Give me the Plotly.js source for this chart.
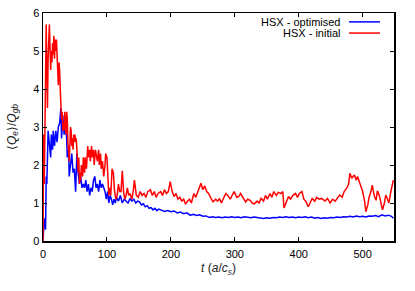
<!DOCTYPE html>
<html><head><meta charset="utf-8">
<script src="https://cdn.plot.ly/plotly-3.0.1.min.js"></script>
<style>html,body{margin:0;padding:0;background:#fff}#c{width:415px;height:291px}</style>
</head><body><div id="c"></div>
<script>
const optT = [0,2,4,5,6,8,10,12,13,15,16,18,20,22,24,26,28,29,31,33,35,37,38,40,41,43,45,47,49,51,53,55,57,59,61,63,65,67,69,71,73,75,77,79,81,83,85,87,89,91,93,95,97,99,101,103,105,107,109,111,113,115,118,121,124,127,130,133,136,139,142,145,148,151,154,157,160,163,166,169,172,175,178,181,184,187,190,195,200,205,210,215,220,225,230,235,240,245,250,255,260,265,270,275,280,285,290,295,300,305,310,315,320,325,330,335,340,345,350,355,360,365,370,375,380,385,390,395,400,405,410,415,420,425,430,435,440,445,450,455,460,465,470,475,480,485,490,495,500,505,510,515,520,525,530,535,540,545,548];
const optQ = [0.0,0.6,0.3,1.7,1.5,2.9,2.6,2.2,2.8,2.4,2.9,2.5,2.9,2.6,3.0,3.1,3.5,2.7,3.3,2.8,3.1,2.7,2.2,2.4,1.7,2.1,2.3,1.8,1.9,1.3,2.3,1.8,1.5,1.7,1.4,1.5,1.4,1.6,1.3,1.5,1.2,1.4,1.3,1.6,1.7,1.4,1.5,1.3,1.6,1.4,1.5,1.4,1.3,1.1,1.3,1.0,1.2,1.1,0.95,1.1,1.0,1.15,1.05,1.2,1.0,1.1,1.05,1.0,1.12,1.05,1.1,1.0,1.05,1.03,0.95,0.98,0.9,0.93,0.86,0.88,0.82,0.86,0.8,0.84,0.82,0.8,0.78,0.8,0.77,0.79,0.74,0.76,0.72,0.74,0.68,0.7,0.67,0.69,0.65,0.66,0.62,0.64,0.62,0.63,0.61,0.63,0.62,0.64,0.62,0.63,0.61,0.64,0.63,0.61,0.63,0.62,0.6,0.59,0.61,0.6,0.62,0.61,0.63,0.62,0.64,0.62,0.63,0.61,0.63,0.62,0.64,0.61,0.63,0.6,0.62,0.59,0.61,0.6,0.62,0.61,0.63,0.62,0.64,0.63,0.65,0.63,0.66,0.64,0.65,0.63,0.66,0.65,0.67,0.64,0.69,0.66,0.68,0.65,0.6];
const iniT = [
  0,1,2,3,4,5,6,7,8,9, 10,11,12,13,14,15,16,17,18,19,
  20,21,22,23,24,25,26,27,28,29, 30,31,32,33,34,35,36,37,38,39,
  40,41,42,43,44,45,46,47,48,49, 50,51,52,53,54,55,56,57,58,59,
  60,62,63,65,66,68,70,71,73,74, 76,77,79,80,82,83,85,87,88,90,
  91,93,95,97,98,100,101,103,104,106, 108,110,112,114,116,118,120,122,124,126,
  128,130,132,
  134,136,139,141,143,146,149,152,155,158,
  161,164,168,171,174,177,180,184,187,190,
  193,196,199,202,205,208,211,214,217,220,
  223,226,229,232,236,239,242,245,247,250,
  253,256,259,262,266,270,273,276,279,283,
  286,289,293,296,299,303,306,309,314,317,
  320,324,327,330,335,338,341,345,348,351,
  355,358,361,365,368,372,375,377,380,384,
  387,391,395,398,401,405,408,411,415,418,
  421,425,428,432,436,441,445,449,453,457,
  461,464,468,471,475,478,480,483,487,490,
  492,495,498,500,503,505,508,510,513,515,
  518,521,523,526,528,531,534,536,539,541,
  544,546,548];
const iniQ = [
  0.0,2.8,1.5,2.9,4.2,5.7,4.5,3.5,4.8,5.3, 5.7,5.1,4.5,5.0,4.7,5.2,4.9,5.4,4.8,5.3,
  5.0,5.3,4.8,4.6,4.1,4.7,4.5,4.0,3.5,3.2, 3.4,2.9,3.1,2.9,3.4,3.1,2.8,3.4,3.2,2.6,
  2.4,2.1,2.5,3.0,2.9,2.5,2.7,2.4,2.8,2.6, 2.8,2.6,2.7,2.3,2.0,1.8,2.2,1.5,1.8,1.6,
  2.0,1.7,2.2,1.8,2.2,1.9,2.5,2.2,2.4,2.1, 2.5,2.2,2.4,2.0,2.4,2.3,2.1,2.4,2.0,2.3,
  1.9,2.1,1.7,2.0,2.3,2.2,1.7,1.2,1.4,1.2, 1.9,1.8,1.3,1.1,1.2,1.5,1.3,1.3,1.85,1.3,
  1.1,1.2,1.4,
  1.2,1.25,1.1,1.3,1.6,1.2,1.15,1.3,1.2,1.25,
  1.15,1.3,1.35,1.2,1.3,1.15,1.25,1.3,1.2,1.35,
  1.25,1.3,1.56,1.3,1.17,1.25,1.1,1.15,1.05,1.1,
  0.97,1.05,1.1,1.0,1.25,1.15,1.3,1.4,1.52,1.35,
  1.45,1.3,1.25,1.15,1.03,1.1,1.05,1.12,1.0,1.15,
  1.25,1.2,1.1,1.21,1.3,1.15,1.17,1.25,1.1,1.03,
  1.1,1.07,1.0,0.97,1.05,1.0,1.12,1.05,1.2,1.1,
  1.25,1.15,1.3,1.2,1.28,1.25,1.3,0.87,1.0,1.17,
  1.1,1.2,1.25,1.15,1.25,1.3,1.1,1.05,0.9,1.0,
  1.12,1.05,1.15,1.1,1.12,1.05,1.12,1.0,1.1,1.05,
  1.15,1.21,1.15,1.3,1.39,1.5,1.78,1.65,1.74,1.6,
  1.7,1.55,1.4,1.3,1.05,0.77,0.95,1.15,1.3,1.47,
  1.2,1.07,1.32,1.2,1.05,0.82,1.0,1.21,1.1,1.0,
  1.3,1.5,1.6];
const names = ['HSX - optimised','HSX - initial'];
const colors = ['#0000ff','#ff0000'];
const xTicks = [0,100,200,300,400,500];
const yTicks = [0,1,2,3,4,5,6];

const font = {family:'Liberation Sans, Arial, sans-serif', size:11, color:'#000'};
const traces = [
  {x:optT, y:optQ, type:'scatter', mode:'lines', name:names[0], line:{color:colors[0], width:1.5}, showlegend:false},
  {x:iniT, y:iniQ, type:'scatter', mode:'lines', name:names[1], line:{color:colors[1], width:1.5}, showlegend:false}
];
const axisCommon = {showgrid:false, zeroline:false, showline:true, linecolor:'#000', linewidth:1.5, mirror:'allticks', ticks:'inside', ticklen:4, tickwidth:1, tickcolor:'#000', tickfont:font};
const layout = {
  width:415, height:291,
  margin:{l:43, r:21, t:13, b:50},
  paper_bgcolor:'#fff', plot_bgcolor:'#fff',
  font:font,
  xaxis:Object.assign({}, axisCommon, {range:[0,549], tickvals:xTicks, ticktext:xTicks.map(String), ticklabelstandoff:2,
    title:{text:'<i>t</i> (<i>a</i>/<i>c</i><sub><i>s</i></sub>)', font:{family:font.family, size:12, color:'#222'}, standoff:5}}),
  yaxis:Object.assign({}, axisCommon, {range:[0,6], tickvals:yTicks, ticktext:yTicks.map(String),
    title:{text:'⟨<i>Q</i><sub><i>e</i></sub>⟩/<i>Q</i><sub><i>gb</i></sub>', font:{family:font.family, size:12, color:'#222'}, standoff:14}}),
  annotations: names.map((n,i)=>({xref:'paper', yref:'paper', x:0.851, y:0.961-i*0.049, xanchor:'right', yanchor:'middle', text:n, showarrow:false, font:font})),
  shapes: names.map((n,i)=>({type:'line', xref:'paper', yref:'paper', x0:0.872, x1:0.96, y0:0.961-i*0.049, y1:0.961-i*0.049, line:{color:colors[i], width:1.5}}))
};
Plotly.newPlot('c', traces, layout, {staticPlot:true, displayModeBar:false});
</script></body></html>
